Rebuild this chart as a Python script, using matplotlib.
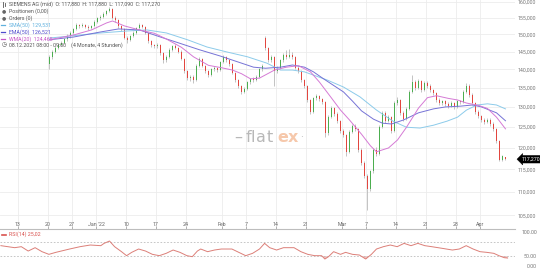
import matplotlib
matplotlib.use('Agg')
import matplotlib.pyplot as plt
import matplotlib.transforms as mtransforms
from matplotlib.lines import Line2D
from matplotlib.ticker import NullLocator
import numpy as np

# ---------------- data (4h-style candles, bar index 0 = first visible candle) ----------------
opens = [141.5, 143.5, 145.0, 146.0, 147.0, 147.5, 148.5, 149.5, 150.5, 151.5,
         152.8, 152.5, 152.8, 152.3, 152.0, 152.5, 153.8, 154.8, 155.3, 156.2,
         157.0, 157.8, 155.0, 154.3, 152.5, 151.5, 149.0, 148.3, 149.5, 150.5,
         151.8, 152.8, 152.3, 150.5, 148.0, 146.8, 146.5, 147.0, 144.5, 142.5,
         143.5, 145.5, 146.5, 146.0, 145.0, 143.0, 139.5, 137.5, 138.0, 137.2,
         141.0, 143.0, 141.0, 139.5, 138.5, 140.0, 140.3, 139.8, 142.0, 143.5,
         142.5, 141.5, 139.0, 137.0, 135.5, 134.0, 134.8, 136.5, 137.3, 137.0,
         138.0, 140.0, 149.0, 146.0, 142.5, 143.5, 139.5, 140.5, 142.5, 144.0,
         143.5, 144.0, 143.5, 140.5, 139.5, 137.0, 135.5, 131.8, 128.8, 132.3,
         132.8, 132.0, 131.2, 123.5, 127.5, 129.8, 128.2, 126.5, 124.0, 123.0,
         119.0, 123.8, 125.2, 124.5, 119.5, 116.5, 113.5, 110.5, 114.5, 119.5,
         118.5, 125.0, 128.5, 126.5, 127.5, 124.0, 131.0, 131.8, 128.5, 127.0,
         129.5, 134.0, 136.5, 135.0, 136.8, 134.5, 136.3, 135.5, 134.3, 133.5,
         131.8, 131.0, 131.5, 130.8, 130.3, 131.0, 130.0, 131.5, 131.2, 134.0,
         135.6, 133.2, 131.0, 128.7, 127.6, 126.8, 126.3, 126.8, 125.8, 124.5,
         121.5, 117.2, 117.88]
closes = [143.5, 145.0, 146.0, 147.0, 147.5, 148.5, 149.5, 150.5, 151.5, 152.8,
          152.5, 152.8, 152.3, 152.0, 152.5, 153.8, 154.8, 155.3, 156.2, 157.0,
          157.8, 155.0, 154.3, 152.5, 151.5, 149.0, 148.3, 149.5, 150.5, 151.8,
          152.8, 152.3, 150.5, 148.0, 146.8, 146.5, 147.0, 144.5, 142.5, 143.5,
          145.5, 146.5, 146.0, 145.0, 143.0, 139.5, 137.5, 138.0, 137.2, 141.0,
          143.0, 141.0, 139.5, 138.5, 140.0, 140.3, 139.8, 142.0, 143.5, 142.5,
          141.5, 139.0, 137.0, 135.5, 134.0, 134.8, 136.5, 137.3, 137.0, 138.0,
          140.0, 141.0, 146.0, 142.5, 143.5, 139.5, 140.5, 142.5, 144.0, 143.5,
          144.0, 143.5, 140.5, 139.5, 137.0, 135.5, 131.8, 128.8, 132.3, 132.8,
          132.0, 131.2, 123.5, 127.5, 129.8, 128.2, 126.5, 124.0, 123.0, 119.0,
          123.8, 125.2, 124.5, 119.5, 116.5, 113.5, 110.5, 114.5, 119.5, 118.5,
          125.0, 128.5, 126.5, 127.5, 124.0, 131.0, 131.8, 128.5, 127.0, 129.5,
          134.0, 136.5, 135.0, 136.8, 134.5, 136.3, 135.5, 134.3, 133.5, 131.8,
          131.0, 131.5, 130.8, 130.3, 131.0, 130.0, 131.5, 131.2, 134.0, 135.6,
          133.2, 131.0, 128.7, 127.6, 126.8, 126.3, 126.8, 125.8, 124.5, 121.5,
          117.2, 117.9, 117.27]
highs = [144.0, 145.4, 146.5, 147.4, 148.0, 148.9, 150.0, 150.9, 151.9, 153.3,
         153.2, 153.3, 153.1, 152.7, 152.9, 154.2, 155.2, 155.8, 156.6, 157.5,
         158.3, 158.0, 155.5, 154.6, 152.9, 151.8, 149.6, 149.9, 150.9, 152.2,
         153.3, 153.2, 152.6, 150.8, 148.4, 147.2, 147.5, 147.3, 144.8, 143.9,
         145.9, 147.0, 147.2, 146.4, 145.3, 143.3, 139.8, 138.5, 138.4, 141.4,
         143.4, 143.3, 141.3, 139.9, 140.4, 140.8, 140.7, 142.4, 143.9, 143.8,
         142.9, 141.8, 139.3, 137.3, 135.8, 135.2, 136.9, 137.7, 137.8, 138.4,
         140.4, 141.5, 149.6, 146.3, 144.0, 143.8, 141.0, 142.9, 144.6, 145.3,
         145.6, 144.8, 143.8, 140.9, 139.8, 137.3, 135.8, 132.1, 132.7, 133.4,
         133.2, 132.4, 131.5, 127.9, 130.3, 130.1, 128.6, 126.8, 124.5, 123.3,
         124.2, 125.7, 125.6, 124.8, 119.8, 116.8, 113.8, 114.9, 120.0, 120.2,
         125.5, 129.0, 128.9, 128.0, 127.8, 131.4, 132.5, 132.1, 128.9, 129.9,
         134.5, 138.5, 137.0, 137.3, 137.1, 136.8, 136.7, 135.9, 134.7, 133.8,
         132.2, 131.9, 131.9, 131.2, 131.4, 131.3, 131.9, 131.9, 134.4, 136.2,
         135.9, 133.5, 131.3, 129.1, 128.0, 127.2, 127.2, 127.1, 126.1, 124.8,
         121.8, 118.3, 117.88]
lows = [140.0, 143.0, 144.6, 145.6, 146.6, 147.1, 148.1, 149.0, 150.1, 151.2,
        152.0, 152.1, 151.8, 151.4, 151.6, 152.2, 153.4, 154.4, 154.9, 155.8,
        156.6, 154.6, 153.8, 152.0, 151.0, 148.5, 147.6, 148.0, 149.1, 150.1,
        151.5, 151.9, 150.0, 147.5, 146.3, 146.0, 146.1, 144.0, 141.8, 142.1,
        143.2, 145.1, 145.6, 144.6, 142.6, 139.0, 137.0, 136.8, 136.4, 136.9,
        140.6, 140.6, 139.0, 138.0, 138.2, 139.6, 139.3, 139.5, 141.7, 142.1,
        141.0, 138.6, 136.5, 135.0, 133.4, 133.6, 134.5, 136.1, 136.6, 136.7,
        137.7, 139.6, 145.5, 142.0, 142.1, 135.5, 139.0, 140.1, 142.1, 143.0,
        143.1, 143.0, 140.0, 139.0, 136.5, 135.0, 131.3, 128.3, 128.5, 131.9,
        131.5, 130.7, 122.5, 123.1, 127.1, 127.7, 126.0, 123.5, 122.5, 118.0,
        118.7, 123.4, 124.0, 119.0, 116.0, 113.0, 106.2, 110.1, 114.1, 118.0,
        118.2, 124.6, 126.0, 126.1, 123.5, 123.7, 130.6, 128.0, 126.5, 126.7,
        129.2, 133.6, 134.5, 134.6, 134.0, 134.1, 135.0, 133.8, 133.0, 131.3,
        130.5, 130.6, 130.3, 129.8, 129.9, 129.5, 129.7, 130.8, 130.9, 133.6,
        132.7, 130.5, 128.2, 127.1, 126.3, 125.8, 125.9, 125.3, 124.0, 121.0,
        116.9, 116.9, 117.09]

sma_bars = [0, 17, 26, 32.5, 39, 46, 52.5, 59, 66, 72.5, 77, 81, 85, 92.5, 98, 103.5,
            109, 114.5, 119, 123.5, 128, 132.5, 136, 139, 142.5, 146, 149, 152]
sma_vals = [148.9, 150.4, 151.0, 151.3, 150.4, 148.4, 146.3, 144.9, 143.5, 141.7, 139.8,
            139.8, 139.3, 137.1, 135.2, 132.6, 129.2, 126.4, 124.9, 124.7, 125.4, 126.4,
            127.4, 129.2, 130.5, 130.8, 130.5, 129.5]
ema_bars = [0, 8, 17, 23, 30, 37, 43, 50, 57, 63, 68, 72, 77, 81, 85, 88, 91, 94, 98,
            101, 104, 108, 111, 114, 118, 123, 128, 132, 137, 141, 144, 149, 152]
ema_vals = [148.4, 149.2, 150.7, 151.6, 151.3, 149.2, 147.5, 145.5, 143.7, 142.0, 140.6,
            140.3, 140.6, 141.2, 140.6, 139.3, 137.6, 136.0, 133.9, 131.5, 129.0, 126.9,
            125.9, 125.7, 126.7, 128.5, 129.5, 130.0, 130.2, 130.5, 130.0, 128.5, 126.5]
wma_bars = [0, 8, 14, 19, 21, 25, 30, 35, 39, 44, 48, 53, 57, 61, 64, 67, 70, 75, 79, 83,
            87, 90, 94, 97, 100, 104, 107, 109, 113, 116, 119, 123, 126, 129, 133, 136,
            139, 143, 146, 149, 152]
wma_vals = [148.4, 149.8, 151.3, 153.4, 154.0, 152.5, 151.3, 150.3, 148.6, 146.2, 143.5,
            141.1, 140.5, 139.8, 138.8, 137.4, 137.6, 139.8, 140.6, 141.0, 139.3, 136.5,
            132.3, 129.2, 126.7, 123.2, 120.4, 119.0, 119.9, 121.8, 124.9, 129.7, 132.4,
            132.9, 132.2, 131.8, 131.0, 130.4, 129.6, 127.4, 124.5]

rsi_bars = [-16.2, -11.6, -9.4, -7.1, -4.8, -2.5, -0.2, 2.1, 6.7, 10.2, 13.6, 17.1, 18.2,
            20.0, 21.7, 24.0, 25.7, 27.4, 29.7, 32.0, 34.3, 36.6, 38.9, 41.2, 43.5, 45.8,
            47.6, 49.3, 50.4, 52.7, 55.0, 57.3, 60.8, 63.1, 65.4, 67.7, 70.0, 71.7, 73.4,
            75.7, 78.0, 81.5, 83.8, 86.1, 88.4, 90.7, 91.8, 93.0, 94.7, 97.0, 98.7, 101.0,
            103.3, 105.4, 107.3, 109.0, 111.3, 113.6, 115.9, 118.2, 120.5, 122.8, 125.1,
            127.4, 130.9, 134.3, 136.6, 138.9, 141.2, 143.5, 145.8, 148.1, 149.8, 151.6, 152.7]
rsi_vals = [59.3, 53.7, 56.5, 44.4, 53.7, 42.6, 35.2, 40.7, 50.0, 56.5, 61.1, 59.3, 65.7,
            72.2, 56.5, 42.6, 31.5, 40.7, 50.0, 44.4, 35.2, 31.5, 38.0, 47.2, 40.7, 31.5,
            28.7, 44.4, 50.0, 42.6, 47.2, 50.0, 50.0, 40.7, 31.5, 38.0, 50.0, 65.7, 53.7,
            47.2, 53.7, 53.7, 42.6, 35.2, 31.5, 31.5, 22.2, 28.7, 42.6, 35.2, 40.7, 35.2,
            33.3, 22.2, 35.2, 50.0, 56.5, 61.1, 56.5, 65.7, 59.3, 65.7, 59.3, 56.5, 51.9,
            47.2, 50.0, 59.3, 50.0, 42.6, 40.7, 38.0, 31.5, 25.9, 25.0]

# x tick labels: trading-day offset from 13 Dec 2021
tick_days = [0, 5, 9, 13, 18, 23, 28, 34, 38, 43, 48, 54, 58, 63, 68, 73, 77]
tick_labels = ['13', '20', '27', "Jan '22", '10', '17', '24', 'Feb', '7', '14', '21',
               'Mar', '7', '14', '21', '28', 'Apr']
price_ticks = [105, 110, 115, 120, 125, 130, 135, 140, 145, 150, 155, 160]
price_tick_labels = ['105,000', '110,000', '115,000', '120,000', '125,000', '130,000',
                     '135,000', '140,000', '145,000', '150,000', '155,000', '160,000']
rsi_levels = [70, 30]
rsi_tick_labels = ['100.00', '50.00', '0.00']

legend_head = 'SIEMENS AG (mid)  O: 117,880  H: 117,880  L: 117,090  C: 117,270'
legend_rows = ['Positionen (0,00)', 'Orders (0)']
ma_names = ['SMA(50)', 'EMA(50)', 'WMA(20)']
ma_last = ['129,531', '126,521', '124,465']
period_text = '08.12.2021 08:00 - 09:00    (4 Monate, 4 Stunden)'
rsi_name = 'RSI(14)'
rsi_last = '25,02'
last_price_label = '117,270'
watermark_gray = ['\u2013', 'f', 'l', 'a', 't']
watermark_orange = ['e', 'x']

# ---------------- styling ----------------
plt.rcParams['font.family'] = ['Roboto', 'DejaVu Sans']
W, H = 540, 270
GREEN = '#4cae4f'
RED = '#e2463f'
WICK = '#ababab'
SMA_C = '#8ccbea'
EMA_C = '#7673d6'
WMA_C = '#d57ad5'
GRID = '#ececec'
TXT = '#666666'


def fx(x):
    return x / W


def fy(y):
    return 1 - y / H


fig = plt.figure(figsize=(5.4, 2.7), dpi=100, facecolor='white')
ax = fig.add_axes([0, fy(229), fx(515), 229 / H])
rx = fig.add_axes([0, 0, fx(515), 41 / H])
for a in (ax, rx):
    a.set_facecolor('none')

bars = np.arange(len(closes))
o = np.array(opens)
c = np.array(closes)
h = np.array(highs)
l = np.array(lows)

ax.set_yscale('log')
ax.set_ylim(102.2, 160.5)
ax.set_xlim(-16.5, 155.17)

# grid
xt = [2 * d - 10.5 for d in tick_days]
for v in price_ticks:
    ax.axhline(v, color=GRID, lw=0.6, zorder=0)
for v in xt:
    ax.axvline(v, color=GRID, lw=0.6, zorder=0)

# candles
ax.vlines(bars, l, h, color=WICK, lw=0.5, zorder=2)
bottoms = np.minimum(o, c)
heights = np.maximum(np.abs(c - o), 0.12)
cols = [GREEN if cc >= oo else RED for oo, cc in zip(o, c)]
ax.bar(bars, heights, bottom=bottoms, width=0.62, color=cols, linewidth=0, zorder=3)

# moving averages
ax.plot(sma_bars, sma_vals, color=SMA_C, lw=0.7, zorder=4)
ax.plot(ema_bars, ema_vals, color=EMA_C, lw=0.7, zorder=4)
ax.plot(wma_bars, wma_vals, color=WMA_C, lw=0.7, zorder=4)

# axes cosmetics
for s in ('top', 'left', 'right'):
    ax.spines[s].set_visible(False)
ax.spines['bottom'].set_color('#bdbdbd')
ax.spines['bottom'].set_linewidth(0.8)
ax.yaxis.tick_right()
ax.yaxis.set_minor_locator(NullLocator())
ax.set_yticks(price_ticks)
ax.set_yticklabels(price_tick_labels)
ax.tick_params(axis='y', length=0, pad=1.5, labelsize=3.8, labelcolor='#777777')
ax.set_xticks(xt)
ax.set_xticklabels(tick_labels)
ax.tick_params(axis='x', direction='in', length=2, width=0.5, color='#999999',
               pad=-5.3, labelsize=3.8, labelcolor=TXT)

# last price marker
trans = mtransforms.blended_transform_factory(ax.transAxes, ax.transData)
ax.text(1.012, closes[-1], last_price_label, transform=trans, ha='left', va='center',
        color='white', fontsize=3.8, clip_on=False,
        bbox=dict(boxstyle='larrow,pad=0.25', fc='black', ec='black', lw=0.3))

# RSI panel
rx.set_xlim(-16.5, 155.17)
rx.set_ylim(-8.3, 105.6)
for lv in rsi_levels:
    rx.axhline(lv, color='#bdbdbd', lw=0.6, ls=(0, (2, 2)))
rv = np.array(rsi_vals)
rb = np.array(rsi_bars)
rx.fill_between(rb, rv, 30, where=rv < 30, interpolate=True, color='#f3c1bd', lw=0)
rx.plot(rb, rv, color='#dc7f78', lw=0.7)
rx.set_xticks([])
rx.set_yticks([])
for s in rx.spines.values():
    s.set_visible(False)

# RSI labels
for txt, yy in zip(rsi_tick_labels, [232, 257, 267]):
    fig.text(fx(537), fy(yy), txt, ha='right', va='center', fontsize=3.8, color='#777777')
fig.add_artist(Line2D([fx(2), fx(6)], [fy(234.5), fy(234.5)], color='#d9534f', lw=1.2))
fig.text(fx(9), fy(234.5), rsi_name + ' ' + rsi_last, ha='left', va='center',
         fontsize=3.8, color='#d9534f')

# legend block (top left)
LF = 3.8
fig.text(fx(9), fy(4), legend_head, ha='left', va='center', fontsize=LF, color='#555555')
fig.add_artist(Line2D([fx(2.5), fx(2.5)], [fy(2), fy(6.5)], color='#555555', lw=0.6))
fig.add_artist(Line2D([fx(4.5), fx(4.5)], [fy(2.5), fy(6)], color='#555555', lw=0.6))
for i, t in enumerate(legend_rows):
    yy = 11 + 7 * i
    fig.text(fx(2), fy(yy), '\u25CF', ha='left', va='center', fontsize=3.5, color='#666666',
             family=['DejaVu Sans'])
    fig.text(fx(9), fy(yy), t, ha='left', va='center', fontsize=LF, color='#555555')
for i, (nm, val, col) in enumerate(zip(ma_names, ma_last, ['#5fb0de', '#4e4bcc', '#c655c6'])):
    yy = 25 + 7 * i
    fig.add_artist(Line2D([fx(1), fx(5)], [fy(yy), fy(yy)], color=col, lw=0.9))
    fig.text(fx(9), fy(yy), nm + '  ' + val, ha='left', va='center', fontsize=LF, color=col)
fig.text(fx(2), fy(45), '\u25F7', ha='left', va='center', fontsize=4.2, color='#555555',
         family=['DejaVu Sans'])
fig.text(fx(9), fy(45), period_text, ha='left', va='center', fontsize=LF, color='#555555')

# watermark (letters placed individually to mimic the logo spacing)
WM_FONT = ['DejaVu Sans']
for ch, xx in zip(watermark_gray, [234, 245.5, 251, 256, 266.5]):
    fig.text(fx(xx), fy(137), ch, ha='left', va='center', fontsize=11.5,
             color='#b8b8b8', family=WM_FONT)
for ch, xx in zip(watermark_orange, [277, 288]):
    fig.text(fx(xx), fy(137), ch, ha='left', va='center', fontsize=11.5, fontweight='bold',
             color='#f6c8ab', family=WM_FONT)
fig.text(fx(300), fy(137), '\u00B7', ha='left', va='center', fontsize=8, color='#b8b8b8')

fig.savefig('out.png', dpi=100, facecolor='white')
